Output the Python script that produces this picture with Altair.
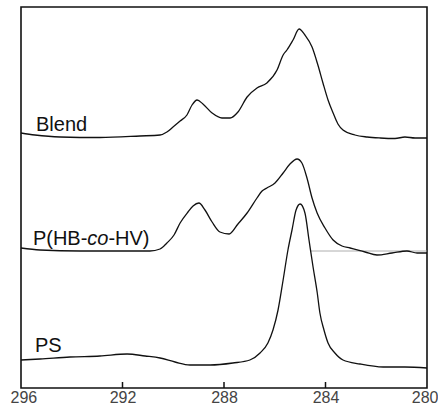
import altair as alt
import pandas as pd

# Binding energy (eV) and intensity (a.u.)
blend_x = [296.0, 295.45, 294.46, 292.89, 291.31, 290.52, 290.25, 290.01, 289.73, 289.46,
           289.26, 289.06, 288.83, 288.47, 288.08, 287.76, 287.45, 287.09, 286.70, 286.31,
           285.91, 285.67, 285.52, 285.28, 285.04, 284.81, 284.53, 284.30, 284.10, 283.90,
           283.70, 283.51, 283.31, 282.84, 282.36, 281.85, 281.26, 280.87, 280.47, 280.0]
blend_y = [255, 253, 251, 250.5, 252, 253, 256, 261, 267, 273,
           283, 288, 284, 275, 270, 270, 276, 291, 300, 305,
           318, 333, 338, 348, 359, 353, 341, 323, 305, 288,
           275, 264, 258, 253, 251, 250, 249.5, 251, 250, 250]

phb_x = [296.0, 295.25, 293.67, 292.10, 290.92, 290.52, 290.25, 289.97, 289.73, 289.42,
         289.22, 288.99, 288.75, 288.47, 288.16, 287.80, 287.45, 287.09, 286.70, 286.50,
         286.31, 285.99, 285.67, 285.40, 285.12, 284.93, 284.73, 284.53, 284.33, 284.02,
         283.70, 283.35, 283.03, 282.44, 281.97, 281.38, 280.79, 280.39, 280.0]
phb_y = [140, 138, 137, 137, 137, 139, 145, 153, 165, 176,
         182, 185, 178, 166, 156, 154, 164, 175, 190, 197,
         200, 205, 215, 224, 229, 225, 210, 190, 175, 160,
         148, 142, 140, 136, 133, 135, 137, 135, 135]

ps_x = [296.0, 295.25, 294.07, 292.89, 291.82, 291.11, 290.52, 289.93, 289.34, 288.55,
        287.65, 286.98, 286.58, 286.27, 286.07, 285.87, 285.67, 285.48, 285.32, 285.16,
        285.00, 284.81, 284.65, 284.49, 284.33, 284.22, 284.06, 283.90, 283.63, 283.31,
        282.64, 281.73, 280.87, 280.0]
ps_y = [28, 29, 31, 32, 34, 32, 30, 26, 23, 23,
        25, 28, 35, 45, 58, 78, 108, 138, 158, 178,
        184, 175, 148, 121, 96, 75, 58, 45, 35, 28,
        24, 21, 21, 20]

tick_values = [296, 292, 288, 284, 280]
inner_ticks = [292, 288, 284]

rows = []
for name, xs, ys in [("Blend", blend_x, blend_y), ("P(HB-co-HV)", phb_x, phb_y), ("PS", ps_x, ps_y)]:
    for a, b in zip(xs, ys):
        rows.append({"series": name, "ev": a, "intensity": b})
df = pd.DataFrame(rows)

W, H = 406, 381
xscale = alt.Scale(domain=[296, 280], nice=False, zero=False)
yscale = alt.Scale(domain=[0, 381], nice=False, zero=False)

X = alt.X("ev:Q", scale=xscale,
          axis=alt.Axis(values=tick_values, ticks=False, domain=False, grid=False,
                        labelFont="Liberation Sans", labelFontSize=16, labelColor="#444444",
                        labelPadding=1, title=None, format="d",
                        labelFlush=True, labelFlushOffset=11))
Y = alt.Y("intensity:Q", scale=yscale, axis=None)

lines = alt.Chart(df).mark_line(color="#111111", strokeWidth=1.3, interpolate="monotone").encode(
    x=X, y=Y, detail="series:N")

tick_rows = []
for t in inner_ticks:
    tick_rows.append({"grp": str(t), "ev": t, "intensity": 0})
    tick_rows.append({"grp": str(t), "ev": t, "intensity": 6})
ticks = alt.Chart(pd.DataFrame(tick_rows)).mark_line(color="#111111", strokeWidth=1.5).encode(
    x=X, y=Y, detail="grp:N")

refline = alt.Chart(pd.DataFrame({"ev": [284.6, 280.0], "intensity": [137, 137]})).mark_line(
    color="#999999", strokeWidth=0.8).encode(x=X, y=Y)

label_df = pd.DataFrame({
    "ev": [295.41, 295.45],
    "intensity": [257, 36],
    "label": ["Blend", "PS"],
})
labels = alt.Chart(label_df).mark_text(
    align="left", baseline="alphabetic", font="Liberation Sans", fontSize=20, color="#111111"
).encode(x=X, y=Y, text="label:N")

p1 = alt.Chart(pd.DataFrame({"ev": [295.53], "intensity": [143], "label": ["P(HB-"]})).mark_text(
    align="left", baseline="alphabetic", font="Liberation Sans", fontSize=20, color="#111111"
).encode(x=X, y=Y, text="label:N")
p2 = alt.Chart(pd.DataFrame({"ev": [295.53], "intensity": [143], "label": ["co"]})).mark_text(
    align="left", baseline="alphabetic", font="Liberation Sans", fontSize=20, color="#111111",
    fontStyle="italic", dx=54.4
).encode(x=X, y=Y, text="label:N")
p3 = alt.Chart(pd.DataFrame({"ev": [295.53], "intensity": [143], "label": ["-HV)"]})).mark_text(
    align="left", baseline="alphabetic", font="Liberation Sans", fontSize=20, color="#111111",
    dx=75.5
).encode(x=X, y=Y, text="label:N")

chart = alt.layer(refline, lines, ticks, labels, p1, p2, p3).properties(
    width=W, height=H,
    autosize=alt.AutoSizeParams(type="none"),
    padding={"left": 21, "top": 7, "right": 11, "bottom": 21},
    background="white",
).configure_view(stroke="#111111", strokeWidth=1.6)

chart.save("out.html", embed_options={"renderer": "svg", "actions": False})
